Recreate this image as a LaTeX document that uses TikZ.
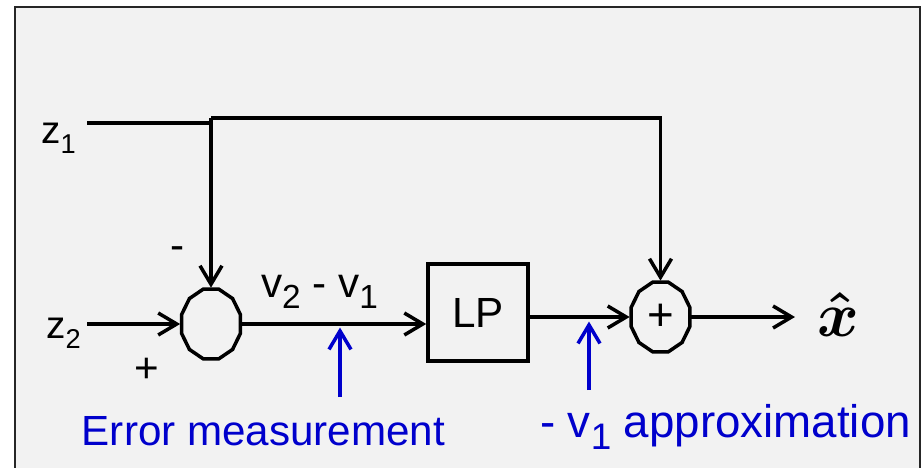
\documentclass[tikz,border=0pt]{standalone}
\usepackage{fontspec}
\setmainfont{Liberation Sans}
\usetikzlibrary{arrows.meta, positioning, shapes.geometric}
\definecolor{panelgray}{HTML}{F2F2F2}
\definecolor{noteblue}{HTML}{0000CC}
\newcommand{\lowidx}[2]{\raisebox{-0.28em}{\fontsize{#1}{#1}\selectfont #2}}
\tikzset{
  sumj/.style={ellipse, minimum width=1.22cm, minimum height=1.44cm,
               inner sep=0pt, font=\fontsize{24}{24}\selectfont},
  blk/.style={rectangle, draw, line width=2pt, minimum width=2.0cm,
              minimum height=1.94cm, font=\fontsize{24}{24}\selectfont},
  wire/.style={line width=2pt},
  arr/.style={wire, -{Straight Barb[length=0.37cm, width=0.44cm]}},
  note/.style={arr, draw=noteblue},
  frame/.style={draw=black!85, line width=1.2pt, fill=panelgray},
}

\begin{document}
\begin{tikzpicture}[
  every node/.style={font=\fontsize{24}{24}\selectfont},
  inp/.style={anchor=base west, font=\fontsize{22}{22}\selectfont},
  sgn/.style={anchor=base},
  lbl/.style={anchor=base, text=noteblue},
]
  \useasboundingbox (0,0) rectangle (18.44,9.34);
  \draw[frame] (0.30,-0.3) rectangle (18.40,9.20);

  \node[inp] (z1) at (0.70,6.48) {z\lowidx{15.5}{1}};
  \node[inp] (z2) at (0.80,2.58) {z\lowidx{15.5}{2}};
  \node[sumj] (s1) at (4.22,2.86) {};
  \node[blk] (lp) at (9.56,3.09) {LP};
  \node[sumj, font=\fontsize{26}{26}\selectfont] (s2) at (13.21,3.00) {+};
  \node[inner sep=0pt] (xhat) at (16.77,3.06) {\scalebox{1.45}{\boldmath$\hat{x}$}};
  \node[sgn] (minus) at (3.56,4.16) {-};
  \node[sgn] (plus) at (2.94,1.70) {+};
  \node[sgn] (diff) at (6.39,3.40) {v\lowidx{19}{2} - v\lowidx{19}{1}};
  \node[lbl] (errlbl) at (5.27,0.44) {Error measurement};
  \node[lbl, font=\fontsize{26}{26}\selectfont] (apxlbl) at (14.51,0.60) {- v\lowidx{21}{1} approximation};

  \coordinate (z1end) at (1.74,6.88);
  \coordinate (z2end) at (1.74,2.86);
  \coordinate (tap) at (4.22,6.98);
  \coordinate (outtip) at (15.90,3.00);
  \coordinate (errfoot) at (6.80,1.40);
  \coordinate (apxfoot) at (11.78,1.54);

  \foreach \s in {s1,s2}
    \draw[wire] ([shift={(\s)}]15:0.61 and 0.72)
      \foreach \a in {45,75,...,345} { -- ([shift={(\s)}]\a:0.61 and 0.72) } -- cycle;

  \draw[wire] (z1end) -- (z1end -| tap);
  \draw[arr] (tap) -- (s1.north);
  \draw[arr] (tap) -- (tap -| s2) -- (s2.north);
  \draw[arr] (z2end) -- (s1.west);
  \draw[arr] (s1.east) -- (s1.east -| lp.west);
  \draw[arr] (lp.east |- s2) -- (s2.west);
  \draw[arr] (s2.east) -- (outtip);
  \draw[note, shorten >=0.07cm] (errfoot) -- (errfoot |- s1.east);
  \draw[note, shorten >=0.09cm] (apxfoot) -- (apxfoot |- s2.east);
\end{tikzpicture}
\end{document}
